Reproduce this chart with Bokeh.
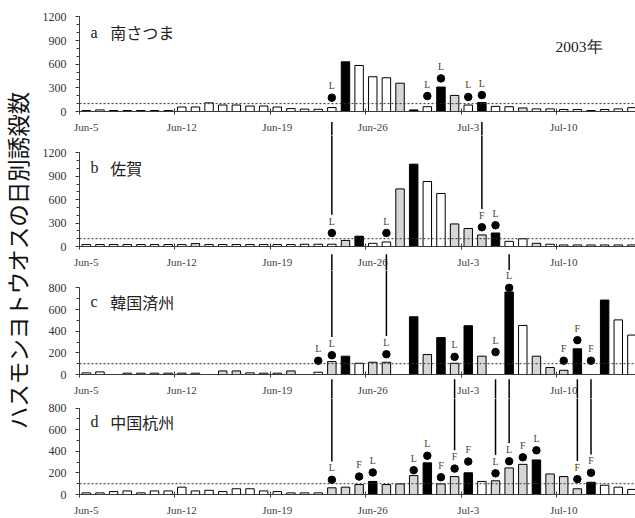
import numpy as np
from bokeh.plotting import figure
from bokeh.layouts import row, column
from bokeh.models import FixedTicker, Range1d, Span, Label
from bokeh.core.properties import value
from bokeh.embed import file_html
from bokeh.resources import INLINE

# ---- data -------------------------------------------------------------
# daily trap catches, 2003-06-05 .. 2003-07-15 (41 days, index 0 = Jun-5)
N_DAYS = 41
TICK_DAYS = [0, 7, 14, 21, 28, 35]
TICK_LABELS = ["Jun-5", "Jun-12", "Jun-19", "Jun-26", "Jul-3", "Jul-10"]

Y_TITLE = "ハスモンヨトウオスの日別誘殺数"
YEAR_TEXT = "2003年"

# bar shade per day: W = white, G = gray, K = black
A_NAME = "南さつま"
A_COUNTS = [12, 20, 12, 12, 12, 12, 12, 57, 57, 110, 82, 82, 69, 69, 57, 37, 30, 28, 50,
            630, 584, 441, 428, 359, 20, 61, 310, 204, 82, 114, 65, 61, 45, 33, 33, 25,
            25, 12, 25, 33, 49]
A_SHADES = "KWKKKKKWWWWWWWWWWWWKWWWGKWKGWKWWGWWWWKWWW"
A_MARKS = [(18, "L", 175), (25, "L", 196), (26, "L", 420), (28, "L", 184), (29, "L", 208)]

B_NAME = "佐賀"
B_COUNTS = [25, 25, 25, 25, 25, 25, 25, 25, 37, 25, 25, 25, 25, 25, 25, 25, 29, 29, 29,
            78, 132, 41, 58, 738, 1055, 833, 680, 289, 231, 148, 173, 66, 99, 41, 29,
            20, 20, 20, 20, 20, 20]
B_SHADES = "WWWWWWWWGWWWWWWWWWWGKWWGKWWGGGKWWGWWWWWWW"
B_MARKS = [(18, "L", 173), (22, "L", 173), (29, "F", 247), (30, "L", 272)]

C_NAME = "韓国済州"
C_COUNTS = [15, 24, None, 12, 12, 12, 12, 12, 12, None, 33, 33, 15, 12, 12, 33, None, 21,
            119, 169, 104, 113, 113, None, 533, 184, 341, 104, 450, 169, None, 762, 453,
            169, 65, 39, 237, None, 687, 504, 364]
C_SHADES = "WWWWWWWWWWGGWWWGWWGKWGGWKGKGKGWKWGGGKWKWW"
C_MARKS = [(17, "L", 127), (18, "L", 178), (22, "L", 187), (27, "L", 163), (30, "L", 207),
           (31, "L", 800), (35, "F", 127), (36, "F", 317), (37, "F", 127)]

D_NAME = "中国杭州"
D_COUNTS = [15, 15, 27, 33, 15, 33, 33, 68, 33, 39, 27, 53, 53, 33, 27, 15, 15, 15,
            62, 68, 92, 121, 92, 98, 175, 293, 98, 166, 201, 121, 127, 246, 279, 320,
            190, 166, 53, 113, 86, 68, 47]
D_SHADES = "WWWWWWWWWWWWWWWWWWGGGKGGGKGGKWGGGKGGGKWWW"
D_MARKS = [(18, "L", 136), (20, "F", 166), (21, "L", 204), (24, "L", 225), (25, "L", 359),
           (26, "F", 160), (27, "F", 240), (28, "F", 305), (30, "L", 196), (31, "L", 308),
           (32, "F", 344), (33, "L", 409), (36, "F", 142), (37, "F", 201)]

# days on which a vertical guide links a panel to the one below it
LINKS_AB = [18, 29]
LINKS_BC = [18, 22, 31]
LINKS_CD = [18, 27, 30, 31, 36, 37]

# ---- styling ----------------------------------------------------------
SHADE_COLORS = {"W": "white", "G": "#d6d6d6", "K": "black"}
SERIF = "Liberation Serif"
CJK = "Noto Sans CJK JP"
AXIS_COLOR = "#3c3c3c"
TITLE_W = 38
PLOT_W = 635 - TITLE_W
LEFT_BORDER = 41
BOTTOM_BORDER = 20
BAR_W = 0.62
X_START = -0.5
X_END = X_START + 556 / 13.64

FRAME_H = {}


def make_panel(letter, name, counts, shades, marks, axis_max, step, frame_h, gap):
    y_end = axis_max * frame_h / (frame_h - gap)
    p = figure(width=PLOT_W, height=frame_h + BOTTOM_BORDER,
               x_range=Range1d(X_START, X_END), y_range=Range1d(0, y_end),
               output_backend="svg", toolbar_location=None,
               min_border_left=LEFT_BORDER, min_border_right=0,
               min_border_top=0, min_border_bottom=BOTTOM_BORDER)
    p.outline_line_color = None
    p.grid.visible = False
    p.background_fill_color = "white"
    p.border_fill_color = "white"

    # bars
    xs = [i for i in range(N_DAYS) if counts[i] is not None]
    tops = [counts[i] for i in xs]
    fills = [SHADE_COLORS[shades[i]] for i in xs]
    p.vbar(x=xs, top=tops, bottom=0, width=BAR_W, fill_color=fills,
           line_color="black", line_width=1)

    # reference level
    p.add_layout(Span(location=100, dimension="width", line_color="#333333",
                      line_dash="2 2", line_width=1))

    # marker dots with their letters
    mx = [m[0] for m in marks]
    my = [m[2] for m in marks]
    mt = [m[1] for m in marks]
    p.scatter(x=mx, y=my, size=7.5, marker="circle", color="black")
    p.text(x=mx, y=my, text=mt, y_offset=-12, text_align="center",
           text_baseline="middle", text_font=value(SERIF),
           text_font_size="10px", text_color="#5a3b24")

    # panel caption
    p.add_layout(Label(x=0.3, y=axis_max * 0.84, text=letter, text_font=SERIF,
                       text_font_size="16px", text_baseline="middle",
                       text_color="#222222"))
    p.add_layout(Label(x=1.75, y=axis_max * 0.84, text=name, text_font=CJK,
                       text_font_size="16px", text_baseline="middle",
                       text_color="#222222"))

    # x axis: labels at day centres, ticks on week boundaries
    xa = p.xaxis[0]
    xa.ticker = FixedTicker(ticks=TICK_DAYS, minor_ticks=[d - 0.5 for d in TICK_DAYS])
    xa.major_label_overrides = {d: lab for d, lab in zip(TICK_DAYS, TICK_LABELS)}
    xa.major_tick_line_color = None
    xa.major_tick_out = 0
    xa.major_tick_in = 0
    xa.minor_tick_in = 3
    xa.minor_tick_out = 3
    xa.minor_tick_line_color = AXIS_COLOR
    xa.axis_line_color = AXIS_COLOR
    xa.major_label_standoff = 6
    xa.major_label_text_font = SERIF
    xa.major_label_text_font_size = "11px"
    xa.major_label_text_color = "#3a4050"

    # y axis
    ya = p.yaxis[0]
    ya.bounds = (0, axis_max)
    ya.ticker = FixedTicker(ticks=list(range(0, axis_max + 1, step)),
                            minor_ticks=list(range(0, axis_max + 1, 100)))
    ya.major_tick_out = 4
    ya.major_tick_in = 0
    ya.minor_tick_out = 3
    ya.minor_tick_in = 0
    ya.axis_line_color = AXIS_COLOR
    ya.major_tick_line_color = AXIS_COLOR
    ya.minor_tick_line_color = AXIS_COLOR
    ya.major_label_standoff = 9
    ya.major_label_text_font = SERIF
    ya.major_label_text_font_size = "12px"
    ya.major_label_text_color = "#333333"
    FRAME_H[id(p)] = frame_h
    return p


pa = make_panel("a", A_NAME, A_COUNTS, A_SHADES, A_MARKS, 1200, 300, 115, 17)
pb = make_panel("b", B_NAME, B_COUNTS, B_SHADES, B_MARKS, 1200, 300, 115, 18)
pc = make_panel("c", C_NAME, C_COUNTS, C_SHADES, C_MARKS, 800, 200, 108, 18)
pd_ = make_panel("d", D_NAME, D_COUNTS, D_SHADES, D_MARKS, 800, 200, 100, 10)

pa.add_layout(Label(x=34.4, y=820, text=YEAR_TEXT, text_font=SERIF,
                    text_font_size="15.5px", text_baseline="middle",
                    text_color="#222222"))


def units_per_px(p):
    return (p.y_range.end - p.y_range.start) / FRAME_H[id(p)]


def link(upper, lower, days, lower_marks, start_px=8, end_px=19):
    levels = {m[0]: m[2] for m in lower_marks}
    uu = units_per_px(upper)
    lu = units_per_px(lower)
    # part below the upper panel's axis
    upper.segment(x0=days, y0=[-start_px * uu] * len(days), x1=days,
                  y1=[-(BOTTOM_BORDER + 5) * uu] * len(days),
                  line_color="black", line_width=1.5, level="overlay")
    # part inside the lower panel, down to the marker letter
    lower.segment(x0=days, y0=[lower.y_range.end + 5 * lu] * len(days), x1=days,
                  y1=[levels[d] + end_px * lu for d in days],
                  line_color="black", line_width=1.5)


link(pa, pb, LINKS_AB, B_MARKS, start_px=11)
link(pb, pc, LINKS_BC, C_MARKS, start_px=8)
link(pc, pd_, LINKS_CD, D_MARKS, start_px=5)

# shared y-axis title
tf = figure(width=TITLE_W, height=518, x_range=Range1d(0, TITLE_W),
            y_range=Range1d(0, 518), output_backend="svg", toolbar_location=None,
            x_axis_location=None, y_axis_location=None, min_border=0)
tf.outline_line_color = None
tf.grid.visible = False
tf.text(x=[16.5], y=[258], text=[Y_TITLE], angle=np.pi / 2, text_align="center",
        text_baseline="middle", text_font=value(CJK), text_font_size="22.5px",
        text_color="#111111")

layout = row(tf, column(pa, pb, pc, pd_, spacing=0), spacing=0)
open("out.html", "w").write(file_html(layout, INLINE))
